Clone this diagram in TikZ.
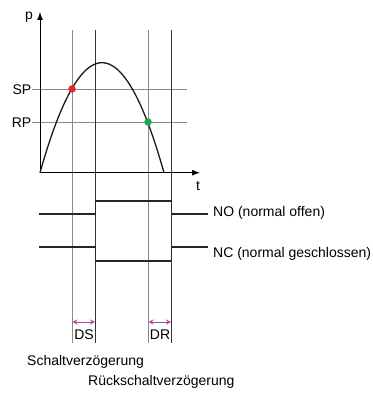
\documentclass[tikz,border=0pt]{standalone}
\usepackage{fontspec}
\setmainfont{Liberation Sans}
\usetikzlibrary{arrows.meta}
\definecolor{gridgray}{HTML}{8A8A8A}
\definecolor{darkline}{HTML}{333333}
\definecolor{redpt}{HTML}{E3262A}
\definecolor{greenpt}{HTML}{1EA650}
\definecolor{magen}{HTML}{B04A9A}
\tikzset{
  lbl/.style={inner sep=0pt, font=\fontsize{14}{16}\selectfont},
  gridline/.style={gridgray, line width=1pt},
  timeline/.style={darkline, line width=1pt},
  axis/.style={black, line width=1pt, -{Latex[length=8pt,width=6pt]}},
  signal/.style={black!85, line width=1.4pt},
  delay/.style={magen, line width=1pt, {Stealth[length=5pt,width=5pt]}-{Stealth[length=5pt,width=5pt]}},
  pt/.style={circle, inner sep=0pt, minimum size=7.5pt}
}
\begin{document}
\begin{tikzpicture}[x=1pt, y=-1pt]
\useasboundingbox (0,0) rectangle (372,396);
% coordinates
\coordinate (O) at (40,172.7);
\coordinate (ytop) at (40,12);
\coordinate (xend) at (200,172.7);
\foreach \n/\xx in {a/72, b/95.5, c/148, d/171.5} {
  \coordinate (\n top) at (\xx,30);
  \coordinate (\n bot) at (\xx,343);
}
% horizontal SP/RP lines
\node[lbl, anchor=east] (SP) at (31.5,89.5) {SP};
\node[lbl, anchor=east] (RP) at (31.5,122.5) {RP};
\coordinate (SPend) at (187,89);
\coordinate (RPend) at (187,122);
\draw[gridline] (SP.east |- 0,89) -- (SPend);
\draw[gridline] (RP.east |- 0,122) -- (RPend);
% vertical time lines
\draw[gridline] (atop) -- (abot);
\draw[gridline] (ctop) -- (cbot);
\draw[timeline] (btop) -- (bbot);
\draw[timeline] (dtop) -- (dbot);
% axes
\draw[axis] (O) -- (ytop);
\draw[axis] (O) -- (xend);
\node[lbl] (p) at (29,17) {p};
\node[lbl] (t) at (198,186) {t};
% curve
\draw[black!90, line width=1.3pt] plot[domain=40:164, samples=80, smooth] (\x, {172.7-110*(1-((\x-102)/62)^2)});
% points
\node[pt, fill=redpt] (SPpt) at (72,89) {};
\node[pt, fill=greenpt] (RPpt) at (148,122) {};
% NO signal
\coordinate (no1) at (39,214);
\coordinate (no2) at (208,214);
\draw[signal] (no1) -- (95.5,214) -- (95.5,201) -- (171.5,201) -- (171.5,214) -- (no2);
\node[lbl, anchor=west] (NO) at (213,212.5) {NO (normal offen)};
% NC signal
\coordinate (nc1) at (39,247);
\coordinate (nc2) at (208,247);
\draw[signal] (nc1) -- (95.5,247) -- (95.5,261) -- (171.5,261) -- (171.5,247) -- (nc2);
\node[lbl, anchor=west] (NC) at (213,253.5) {NC (normal geschlossen)};
% delays
\coordinate (ds1) at (72.5,322);
\coordinate (ds2) at (95,322);
\coordinate (dr1) at (148.5,322);
\coordinate (dr2) at (171,322);
\draw[delay] (ds1) -- (ds2);
\draw[delay] (dr1) -- (dr2);
\node[lbl] (DS) at (84,334.5) {DS};
\node[lbl] (DR) at (160,334.5) {DR};
\node[lbl, anchor=west] (S) at (27,362) {Schaltverzögerung};
\node[lbl, anchor=west] (R) at (88,382) {Rückschaltverzögerung};
\end{tikzpicture}
\end{document}
